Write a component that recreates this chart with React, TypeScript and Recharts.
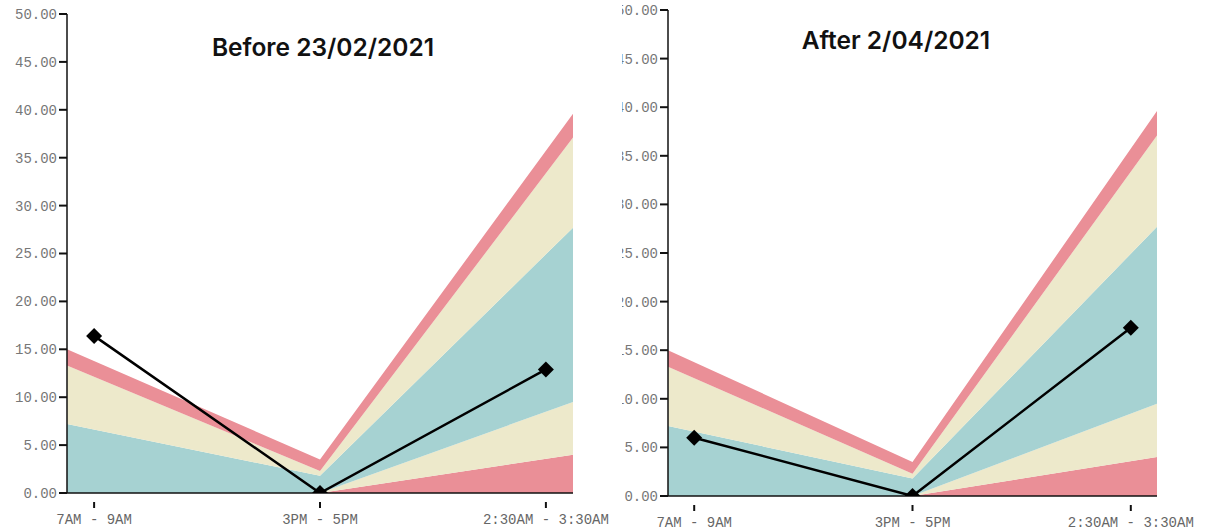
import { ComposedChart, Area, Line, XAxis, YAxis } from "recharts";

// categories and values
const categories = ["7AM - 9AM", "3PM - 5PM", "2:30AM - 3:30AM"];
const bandX = [-0.12, 1, 2.12];
const redLow = [0, 0, 4.0];
const creamLow = [0, 0, 5.5];
const teal = [7.2, 1.8, 18.2];
const creamHigh = [6.1, 0.5, 9.4];
const redHigh = [1.7, 1.2, 2.5];
const beforeValues = [16.4, 0, 12.9];
const afterValues = [6.0, 0, 17.3];
const yTicks = [0, 5, 10, 15, 20, 25, 30, 35, 40, 45, 50];

const xDomain = [-0.12, 2.12];
const RED = "#ea8f97";
const CREAM = "#ede9cb";
const TEAL = "#a6d2d2";
const MONO = "'Liberation Mono', 'DejaVu Sans Mono', monospace";

function CatTick(props: any) {
  const { x, y, payload } = props;
  return (
    <g>
      <line x1={x} x2={x} y1={y + 9} y2={y + 15} stroke="#111" strokeWidth={2} />
      <text x={x} y={y + 31} textAnchor="middle" fill="#666" fontSize={14} fontFamily={MONO}>
        {categories[payload.value]}
      </text>
    </g>
  );
}

function Diamond(props: any) {
  const { cx, cy } = props;
  if (cx == null || cy == null) return null;
  const r = 8;
  return (
    <polygon
      points={`${cx},${cy - r} ${cx + r},${cy} ${cx},${cy + r} ${cx - r},${cy}`}
      fill="#000"
    />
  );
}

function Panel({ values, width, height, top, bottom, right, yAxisWidth }: {
  values: number[];
  width: number;
  height: number;
  top: number;
  bottom: number;
  right: number;
  yAxisWidth: number;
}) {
  const bandRows = bandX.map((x, i) => ({
    x,
    redLow: redLow[i],
    creamLow: creamLow[i],
    teal: teal[i],
    creamHigh: creamHigh[i],
    redHigh: redHigh[i],
  }));
  const lineRows = categories.map((c, i) => ({ x: i, name: c, v: values[i] }));
  const frame = { stroke: "#111", strokeWidth: 1.5 };
  return (
    <ComposedChart width={width} height={height} data={bandRows} margin={{ top, right, left: 0, bottom: 0 }}>
      <XAxis
        dataKey="x"
        type="number"
        domain={xDomain}
        ticks={[0, 1, 2]}
        height={bottom}
        tick={<CatTick />}
        tickLine={false}
        tickSize={0}
        tickMargin={0}
        axisLine={frame}
        allowDataOverflow
      />
      <XAxis xAxisId="top" orientation="top" dataKey="x" type="number" domain={xDomain} height={0} tick={false} tickLine={false} axisLine={frame} allowDataOverflow />
      <YAxis
        domain={[0, 50]}
        ticks={yTicks}
        width={yAxisWidth}
        tickFormatter={(v: number) => v.toFixed(2)}
        tick={{ fill: "#777", fontSize: 14, fontFamily: MONO }}
        tickLine={{ stroke: "#111", strokeWidth: 2 }}
        tickSize={8}
        tickMargin={2}
        axisLine={frame}
        allowDataOverflow
      />
      <YAxis yAxisId="right" orientation="right" domain={[0, 50]} width={0} tick={false} tickLine={false} axisLine={frame} />
      <Area type="linear" dataKey="redLow" stackId="b" stroke="none" fill={RED} fillOpacity={1} isAnimationActive={false} />
      <Area type="linear" dataKey="creamLow" stackId="b" stroke="none" fill={CREAM} fillOpacity={1} isAnimationActive={false} />
      <Area type="linear" dataKey="teal" stackId="b" stroke="none" fill={TEAL} fillOpacity={1} isAnimationActive={false} />
      <Area type="linear" dataKey="creamHigh" stackId="b" stroke="none" fill={CREAM} fillOpacity={1} isAnimationActive={false} />
      <Area type="linear" dataKey="redHigh" stackId="b" stroke="none" fill={RED} fillOpacity={1} isAnimationActive={false} />
      <Line
        data={lineRows}
        type="linear"
        dataKey="v"
        stroke="#000"
        strokeWidth={2.5}
        dot={<Diamond />}
        activeDot={false}
        isAnimationActive={false}
      />
    </ComposedChart>
  );
}

const titleStyle: React.CSSProperties = {
  position: "absolute",
  fontFamily: "Inter, 'Noto Sans', sans-serif",
  fontWeight: 600,
  fontSize: 24.5,
  color: "#111",
  whiteSpace: "nowrap",
  transform: "translate(-50%, -50%)",
};

export default function App() {
  return (
    <div style={{ position: "absolute", left: 0, top: 0, width: 1209, height: 531, background: "#fff", overflow: "hidden" }}>
      <div style={{ position: "absolute", left: 0, top: 0 }}>
        <Panel values={beforeValues} width={622} height={531} top={14} bottom={38} right={49} yAxisWidth={67} />
      </div>
      <div style={{ ...titleStyle, left: 323, top: 47 }}>Before 23/02/2021</div>
      <div style={{ position: "absolute", left: 622, top: 0, width: 587, height: 531, overflow: "hidden" }}>
        <div style={{ position: "absolute", left: -30, top: 0 }}>
          <Panel values={afterValues} width={617} height={531} top={10} bottom={35} right={52} yAxisWidth={76} />
        </div>
      </div>
      <div style={{ ...titleStyle, left: 896, top: 40 }}>After 2/04/2021</div>
    </div>
  );
}
